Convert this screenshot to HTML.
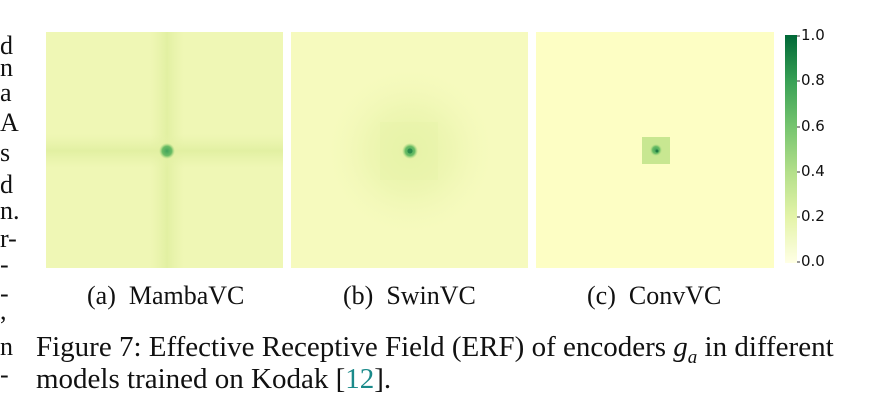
<!DOCTYPE html>
<html><head><style>
body{margin:0;width:880px;height:415px;background:#fff;overflow:hidden;position:relative;font-family:"Liberation Serif",serif;color:#111}
.t{position:absolute;white-space:nowrap}
.lt{position:absolute;left:0;font-size:26px;line-height:1}
.cb{position:absolute;font-family:"DejaVu Sans","Liberation Sans",sans-serif;font-size:15px;left:801px;line-height:1}
</style></head><body>
<svg width="880" height="415" style="position:absolute;left:0;top:0">
<defs>
<linearGradient id="cbg" x1="0" y1="1" x2="0" y2="0">
<stop offset="0" stop-color="#ffffe5"/><stop offset="0.2" stop-color="#e4f4a9"/><stop offset="0.4" stop-color="#b3df8a"/><stop offset="0.6" stop-color="#75c46f"/><stop offset="0.8" stop-color="#38a055"/><stop offset="1" stop-color="#006837"/>
</linearGradient>
<linearGradient id="vh" x1="0" x2="1"><stop offset="0" stop-color="#e6f2a8" stop-opacity="0"/><stop offset="0.5" stop-color="#e2f0a2"/><stop offset="1" stop-color="#e6f2a8" stop-opacity="0"/></linearGradient>
<linearGradient id="hh" x1="0" y1="0" x2="0" y2="1"><stop offset="0" stop-color="#e6f2a8" stop-opacity="0"/><stop offset="0.5" stop-color="#e2f0a2"/><stop offset="1" stop-color="#e6f2a8" stop-opacity="0"/></linearGradient>
<radialGradient id="dot"><stop offset="0" stop-color="#3fa35a"/><stop offset="0.6" stop-color="#6bbd65"/><stop offset="1" stop-color="#a8d880" stop-opacity="0"/></radialGradient>
<radialGradient id="swin"><stop offset="0" stop-color="#e6f2a6"/><stop offset="0.5" stop-color="#eff7b4"/><stop offset="1" stop-color="#f6fabe" stop-opacity="0"/></radialGradient>
</defs>
<rect x="46" y="32" width="237" height="236" fill="#eff7b5"/>
<rect x="150" y="32" width="34" height="236" fill="url(#vh)"/>
<rect x="46" y="134" width="237" height="34" fill="url(#hh)"/>
<circle cx="167" cy="151" r="8" fill="url(#dot)"/>
<rect x="291" y="32" width="237" height="236" fill="#f6fabe"/>
<circle cx="410" cy="151" r="90" fill="url(#swin)"/>
<rect x="380" y="122" width="58" height="58" fill="#e8f3a9" opacity="0.5"/>
<circle cx="410" cy="151" r="8" fill="url(#dot)"/>
<circle cx="410" cy="151" r="2.5" fill="#2a8a4a"/>
<rect x="536" y="32" width="238" height="236" fill="#fdfec4"/>
<rect x="642" y="137" width="28" height="27" fill="#c8e791"/>
<circle cx="656" cy="150" r="6" fill="url(#dot)"/>
<circle cx="657" cy="151" r="1.5" fill="#1f7a42"/>
<rect x="785" y="35" width="12" height="228" fill="url(#cbg)"/>
<g stroke="#333" stroke-width="1"><line x1="797" y1="36" x2="800" y2="36"/><line x1="797" y1="81" x2="800" y2="81"/><line x1="797" y1="127" x2="800" y2="127"/><line x1="797" y1="172" x2="800" y2="172"/><line x1="797" y1="217" x2="800" y2="217"/><line x1="797" y1="262" x2="800" y2="262"/></g>
</svg>
<div class="cb" style="top:28px">1.0</div>
<div class="cb" style="top:73px">0.8</div>
<div class="cb" style="top:119px">0.6</div>
<div class="cb" style="top:164px">0.4</div>
<div class="cb" style="top:209px">0.2</div>
<div class="cb" style="top:254px">0.0</div>
<div class="lt" style="top:33px">d</div>
<div class="lt" style="top:55px">n</div>
<div class="lt" style="top:80px">a</div>
<div class="lt" style="top:110px">A</div>
<div class="lt" style="top:140px">s</div>
<div class="lt" style="top:172px">d</div>
<div class="lt" style="top:198px">n.</div>
<div class="lt" style="top:226px">r-</div>
<div class="lt" style="top:252px">-</div>
<div class="lt" style="top:281px">-</div>
<div class="lt" style="top:298px">,</div>
<div class="lt" style="top:334px">n</div>
<div class="lt" style="top:362px">-</div>
<div class="t" style="left:87px;top:280px;font-size:26px;line-height:1.2">(a)&nbsp; MambaVC</div>
<div class="t" style="left:343px;top:280px;font-size:26px;line-height:1.2">(b)&nbsp; SwinVC</div>
<div class="t" style="left:587px;top:280px;font-size:26px;line-height:1.2">(c)&nbsp; ConvVC</div>
<div class="t" style="left:36px;top:330px;font-size:29px;line-height:1.2">Figure 7: Effective Receptive Field (ERF) of encoders <i>g</i><sub style="font-size:19px;font-style:italic">a</sub> in different</div>
<div class="t" style="left:36px;top:362px;font-size:29px;line-height:1.2">models trained on Kodak [<span style="color:#1a8a8a">12</span>].</div>
</body></html>
